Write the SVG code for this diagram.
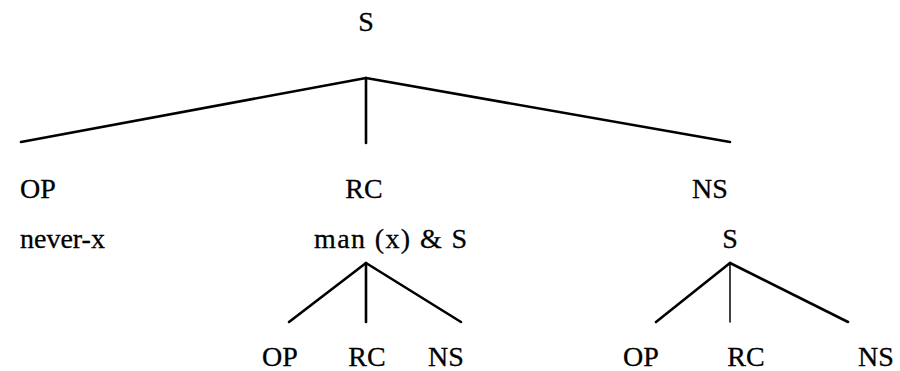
<svg xmlns="http://www.w3.org/2000/svg" width="900" height="371" viewBox="0 0 900 371">
<style>
text{font-family:"Liberation Serif","Times New Roman",serif;font-size:28px;fill:#000;stroke:#000;stroke-width:0.3}
.m{text-anchor:middle}
line{stroke:#000;stroke-width:2.6;stroke-linecap:round}
</style>
<rect width="900" height="371" fill="#fff"/>
<g id="connectors">
<line x1="366" y1="78" x2="21" y2="142"/>
<line x1="366" y1="78" x2="366" y2="143"/>
<line x1="366" y1="78" x2="730" y2="142"/>
<line x1="366" y1="263" x2="289" y2="322"/>
<line x1="366" y1="263" x2="366" y2="322"/>
<line x1="366" y1="263" x2="461" y2="322"/>
<line x1="730" y1="263" x2="656" y2="322"/>
<line x1="730" y1="263" x2="730" y2="322" style="stroke-width:1.5"/>
<line x1="730" y1="263" x2="848" y2="322"/>
</g>
<g id="root"><text class="m" x="366" y="31">S</text></g>
<g id="op1"><text x="20" y="198">OP</text></g>
<g id="rc1"><text class="m" x="364" y="198">RC</text></g>
<g id="ns1"><text class="m" x="710" y="198">NS</text></g>
<g id="neverx"><text x="20" y="248">never-x</text></g>
<g id="man"><text x="314" y="248" textLength="153" lengthAdjust="spacing">man (x) &amp; S</text></g>
<g id="s2"><text class="m" x="730" y="248">S</text></g>
<g id="op2"><text class="m" x="280" y="366">OP</text></g>
<g id="rc2"><text class="m" x="367" y="366">RC</text></g>
<g id="ns2"><text class="m" x="446" y="366">NS</text></g>
<g id="op3"><text class="m" x="641" y="366">OP</text></g>
<g id="rc3"><text class="m" x="746" y="366">RC</text></g>
<g id="ns3"><text class="m" x="876" y="366">NS</text></g>
</svg>
